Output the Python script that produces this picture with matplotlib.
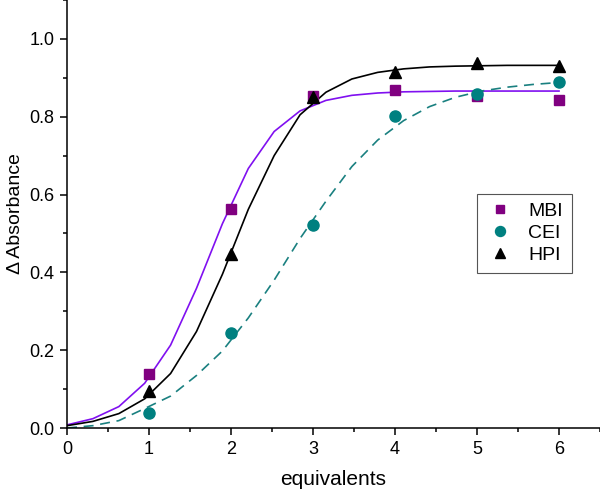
import numpy as np
import matplotlib
matplotlib.use("Agg")
import matplotlib.pyplot as plt
from matplotlib.ticker import MultipleLocator

plt.rcParams['font.family'] = ['Liberation Sans', 'DejaVu Sans']

# measured points
equiv = [1, 2, 3, 4, 5, 6]
mbi = [0.140, 0.563, 0.854, 0.868, 0.853, 0.844]
cei = [0.038, 0.243, 0.522, 0.803, 0.858, 0.890]
hpi = [0.095, 0.448, 0.850, 0.914, 0.937, 0.931]

# fitted curves (20 samples from 0 to 6)
fit_x = [0.0, 0.316, 0.632, 0.947, 1.263, 1.579, 1.895, 2.211, 2.526, 2.842,
         3.158, 3.474, 3.789, 4.105, 4.421, 4.737, 5.053, 5.368, 5.684, 6.0]
fit_mbi = [0.008, 0.024, 0.055, 0.115, 0.213, 0.359, 0.525, 0.667, 0.762, 0.815,
           0.842, 0.855, 0.861, 0.864, 0.865, 0.866, 0.866, 0.866, 0.866, 0.866]
fit_hpi = [0.006, 0.017, 0.037, 0.075, 0.140, 0.248, 0.395, 0.562, 0.700, 0.805,
           0.863, 0.897, 0.914, 0.923, 0.928, 0.930, 0.931, 0.932, 0.932, 0.932]
fit_cei = [0.0, 0.006, 0.019, 0.050, 0.082, 0.135, 0.198, 0.283, 0.380, 0.487,
           0.583, 0.672, 0.740, 0.790, 0.826, 0.850, 0.866, 0.876, 0.883, 0.888]

fig = plt.figure(figsize=(6.0, 4.94), dpi=100)
ax = fig.add_axes([0.1117, 0.1336, 0.8883, 0.8664])

ax.plot(fit_x, fit_mbi, color='#8010f0', lw=1.2)
ax.plot(fit_x, fit_hpi, color='black', lw=1.2)
ax.plot(fit_x, fit_cei, color='#1a8080', lw=1.2, dashes=(6, 4))

ax.plot(equiv, mbi, ls='none', marker='s', ms=7, color='#800080', label='MBI')
ax.plot(equiv, cei, ls='none', marker='o', ms=8, color='#008080', label='CEI')
ax.plot(equiv, hpi, ls='none', marker='^', ms=8.5, color='black', label='HPI')

ax.set_xlim(0, 6.5)
ax.set_ylim(0, 1.1)
ax.xaxis.set_major_locator(MultipleLocator(1))
ax.xaxis.set_minor_locator(MultipleLocator(0.5))
ax.yaxis.set_major_locator(MultipleLocator(0.2))
ax.yaxis.set_minor_locator(MultipleLocator(0.1))
ax.yaxis.set_major_formatter(matplotlib.ticker.FormatStrFormatter('%.1f'))

for s in ['top', 'right']:
    ax.spines[s].set_visible(False)
for s in ['left', 'bottom']:
    ax.spines[s].set_linewidth(1.1)

ax.tick_params(which='major', direction='out', length=5, width=1.1, labelsize=13, pad=4)
ax.tick_params(which='minor', direction='out', length=3, width=1.1)

ax.set_xlabel('equivalents', fontsize=15, labelpad=9)
ax.set_ylabel('\u0394 Absorbance', fontsize=14, labelpad=4)

leg = ax.legend(loc='upper left', bbox_to_anchor=(0.769, 0.547), numpoints=1,
                fontsize=14, fancybox=False, framealpha=1, edgecolor='#555555',
                borderpad=0.45, labelspacing=0.22, handlelength=1.5,
                handletextpad=0.7, borderaxespad=0, markerscale=0.9)
leg.get_frame().set_linewidth(0.8)

fig.savefig('out.png', dpi=100)
